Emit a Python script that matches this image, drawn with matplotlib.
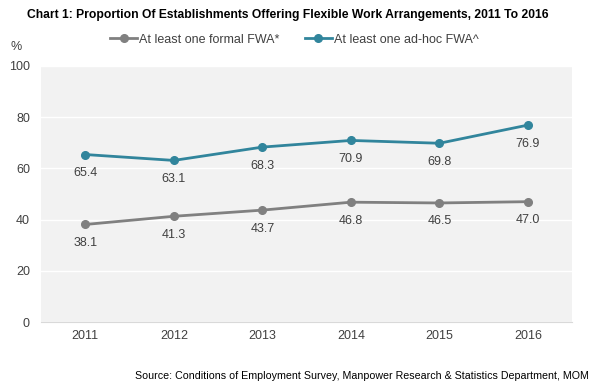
import numpy as np
import matplotlib.pyplot as plt

plt.rcParams['font.family'] = ['Liberation Sans', 'DejaVu Sans']

years = ['2011', '2012', '2013', '2014', '2015', '2016']
formal = [38.1, 41.3, 43.7, 46.8, 46.5, 47.0]
adhoc = [65.4, 63.1, 68.3, 70.9, 69.8, 76.9]

gray = '#808080'
teal = '#31859c'
text_col = '#404040'

fig = plt.figure(figsize=(6.03, 3.83), dpi=100)
ax = fig.add_axes([0.068, 0.159, 0.881, 0.669])
ax.set_facecolor('#f2f2f2')

x = np.arange(len(years))
ax.plot(x, formal, color=gray, lw=2, marker='o', ms=5.5, label='At least one formal FWA*')
ax.plot(x, adhoc, color=teal, lw=2, marker='o', ms=5.5, label='At least one ad-hoc FWA^')

for xi, v in zip(x, formal):
    ax.annotate(f'{v:.1f}', (xi, v), xytext=(0, -9), textcoords='offset points',
                ha='center', va='top', fontsize=9, color=text_col)
for xi, v in zip(x, adhoc):
    ax.annotate(f'{v:.1f}', (xi, v), xytext=(0, -9), textcoords='offset points',
                ha='center', va='top', fontsize=9, color=text_col)

ax.set_xlim(-0.5, len(years) - 0.5)
ax.set_ylim(0, 100)
ax.set_yticks(range(0, 101, 20))
ax.set_xticks(x)
ax.set_xticklabels(years)
ax.grid(axis='y', color='white', lw=1)
ax.set_axisbelow(True)
for s in ['top', 'right', 'left']:
    ax.spines[s].set_visible(False)
ax.spines['bottom'].set_color('#d9d9d9')
ax.tick_params(axis='both', length=0, labelsize=9, colors=text_col, pad=6)
ax.tick_params(axis='y', pad=8)

fig.text(0.045, 0.962, 'Chart 1: Proportion Of Establishments Offering Flexible Work Arrangements, 2011 To 2016',
         fontsize=8.7, fontweight='bold', va='center', ha='left', color='black')
fig.text(0.018, 0.877, '%', fontsize=9, color=text_col, va='center')
fig.text(0.977, 0.018, 'Source: Conditions of Employment Survey, Manpower Research & Statistics Department, MOM',
         fontsize=7.7, ha='right', va='center', color='black')

fig.legend(loc='center', bbox_to_anchor=(0.488, 0.896), ncol=2, frameon=False,
           fontsize=9, handlelength=2.2, columnspacing=2, handletextpad=0.15,
           labelcolor=text_col)

fig.savefig('out.png', dpi=100)
